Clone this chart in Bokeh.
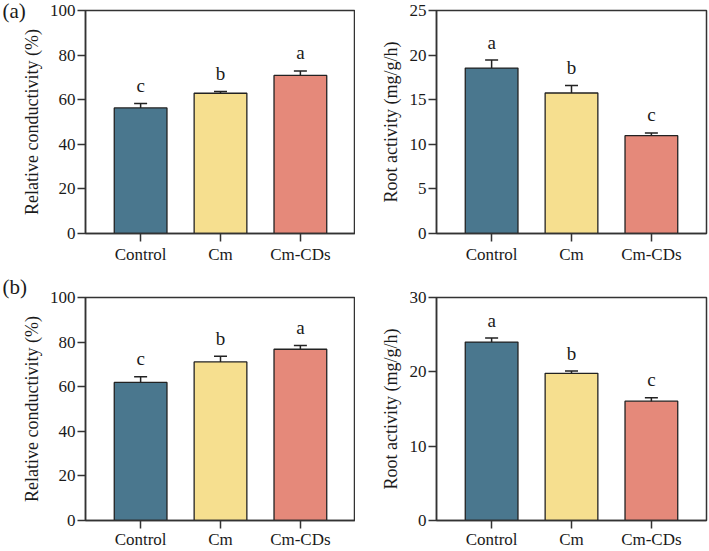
from bokeh.plotting import figure
from bokeh.models import FactorRange, Range1d, Whisker, TeeHead, ColumnDataSource, FixedTicker, Title
from bokeh.layouts import gridplot
from bokeh.embed import file_html
from bokeh.resources import INLINE
from bokeh.core.properties import value

categories = ["Control", "Cm", "Cm-CDs"]
colors = ["#4A778E", "#F6DF8F", "#E5897A"]

# (a) relative conductivity
a_cond = [56.3, 62.9, 70.9]
a_cond_err = [2.0, 0.8, 2.0]
a_cond_letters = ["c", "b", "a"]
# (a) root activity
a_root = [18.55, 15.75, 10.97]
a_root_err = [0.9, 0.85, 0.3]
a_root_letters = ["a", "b", "c"]
# (b) relative conductivity
b_cond = [61.9, 71.1, 76.8]
b_cond_err = [2.6, 2.6, 1.7]
b_cond_letters = ["c", "b", "a"]
# (b) root activity
b_root = [24.0, 19.8, 16.05]
b_root_err = [0.55, 0.3, 0.45]
b_root_letters = ["a", "b", "c"]

FONT = "Liberation Serif"
LINE = "#333333"


def panel(vals, errs, letters, ymax, yticks, ylabel, width, height, bl, br, bt, bb,
          label_std, x_std, tag=None, tag_standoff=None):
    p = figure(x_range=FactorRange(factors=categories, range_padding=0.19,
                                   range_padding_units="absolute"),
               y_range=Range1d(0, ymax), width=width, height=height,
               output_backend="svg", toolbar_location=None,
               min_border_left=bl, min_border_right=br,
               min_border_top=bt, min_border_bottom=bb)
    p.xgrid.visible = False
    p.ygrid.visible = False
    p.outline_line_color = LINE
    p.outline_line_width = 1.5
    p.background_fill_color = "white"
    p.border_fill_color = "white"

    if tag is not None:
        t = Title(text=tag, text_font=FONT, text_font_size="21px",
                  text_font_style="normal", text_color="#1a1a1a",
                  align="left", vertical_align="middle",
                  offset=-83, standoff=tag_standoff)
        p.add_layout(t, "above")

    src = ColumnDataSource(dict(
        x=categories, top=vals, color=colors,
        upper=[v + e for v, e in zip(vals, errs)],
        lower=[v - e for v, e in zip(vals, errs)],
        letters=letters))
    p.vbar(x="x", top="top", width=0.66, fill_color="color",
           line_color="#222222", line_width=1.3, source=src)
    w = Whisker(base="x", upper="upper", lower="lower", source=src,
                line_color="#222222", line_width=1.5,
                upper_head=TeeHead(size=13, line_color="#222222", line_width=1.5),
                lower_head=TeeHead(size=13, line_color="#222222", line_width=1.5))
    p.add_layout(w)
    p.text(x="x", y="upper", text="letters", source=src, y_offset=-18,
           text_align="center", text_baseline="alphabetic",
           text_font=value(FONT), text_font_size="19px", text_color="#1a1a1a")

    for ax in (p.xaxis[0], p.yaxis[0]):
        ax.axis_line_color = LINE
        ax.axis_line_width = 1.5
        ax.major_tick_line_color = LINE
        ax.major_tick_line_width = 1.5
        ax.major_tick_in = 0
        ax.major_tick_out = 8
        ax.minor_tick_line_color = None
        ax.major_label_text_font = FONT
        ax.major_label_text_font_size = "17px"
        ax.major_label_text_color = "#1a1a1a"
    p.xaxis.major_label_standoff = x_std
    p.yaxis.major_label_standoff = 2
    p.yaxis.ticker = FixedTicker(ticks=yticks)
    p.yaxis.axis_label = ylabel
    p.yaxis.axis_label_text_font = FONT
    p.yaxis.axis_label_text_font_size = "18px"
    p.yaxis.axis_label_text_font_style = "normal"
    p.yaxis.axis_label_text_color = "#1a1a1a"
    p.yaxis.axis_label_standoff = label_std
    return p


p1 = panel(a_cond, a_cond_err, a_cond_letters, 100, [0, 20, 40, 60, 80, 100],
           "Relative conductivity (%)", 355, 275, 85, 0, 10, 42, 5, 3, "(a)", -29)
p2 = panel(a_root, a_root_err, a_root_letters, 25, [0, 5, 10, 15, 20, 25],
           "Root activity (mg/g/h)", 354, 275, 81, 3, 10, 41, 6, 3)
p3 = panel(b_cond, b_cond_err, b_cond_letters, 100, [0, 20, 40, 60, 80, 100],
           "Relative conductivity (%)", 355, 276, 85, 0, 22, 31, 5, 1, "(b)", -5)
p4 = panel(b_root, b_root_err, b_root_letters, 30, [0, 10, 20, 30],
           "Root activity (mg/g/h)", 354, 276, 81, 3, 21, 31, 6, 1)

grid = gridplot([[p1, p2], [p3, p4]], toolbar_location=None)

open("out.html", "w").write(file_html(grid, INLINE))
